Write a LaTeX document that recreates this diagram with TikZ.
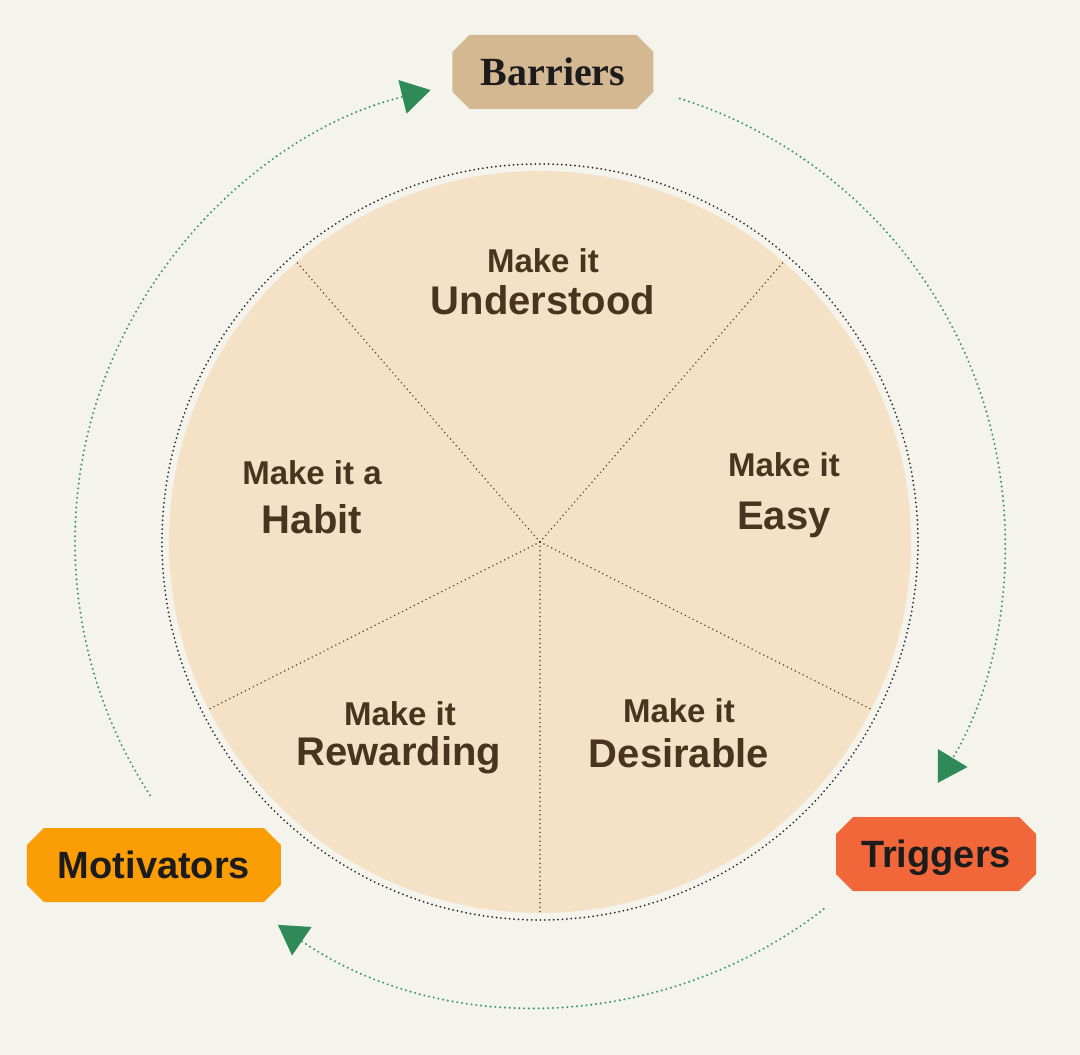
\documentclass[tikz,border=0pt]{standalone}
\usepackage{fontspec}
\setmainfont{Liberation Sans}
\newfontfamily\tagserif{Liberation Serif}
\usetikzlibrary{arrows.meta}

\definecolor{paper}{HTML}{F4F3EC}
\definecolor{wheelfill}{HTML}{F5E1C6}
\definecolor{wheelink}{HTML}{4A3420}
\definecolor{spokeink}{HTML}{5B4631}
\definecolor{ringink}{HTML}{2A2A2A}
\definecolor{labelink}{HTML}{1C1C1C}
\definecolor{barriertan}{HTML}{D4B892}
\definecolor{triggerred}{HTML}{F2673A}
\definecolor{motivorange}{HTML}{FB9D05}
\definecolor{loopgreen}{HTML}{3D9A6A}
\definecolor{tipgreen}{HTML}{2E8B57}

\begin{document}
\begin{tikzpicture}[x=1pt, y=1pt,
    tag/.style={rectangle, fill=paper, minimum height=74pt, inner sep=0pt,
      text height=27pt, text depth=0pt, text=labelink,
      font=\bfseries\fontsize{38}{40}\selectfont,
      path picture={\fill[#1]
        ([xshift=17pt]path picture bounding box.north west) -- ([xshift=-17pt]path picture bounding box.north east)
        -- ([yshift=-17pt]path picture bounding box.north east) -- ([yshift=17pt]path picture bounding box.south east)
        -- ([xshift=-17pt]path picture bounding box.south east) -- ([xshift=17pt]path picture bounding box.south west)
        -- ([yshift=17pt]path picture bounding box.south west) -- ([yshift=-17pt]path picture bounding box.north west)
        -- cycle;}},
    pre/.style={anchor=base, text=wheelink, font=\bfseries\fontsize{33}{36}\selectfont},
    word/.style={anchor=base, text=wheelink, font=\bfseries\fontsize{40}{44}\selectfont},
    spoke/.style={spokeink, line width=1.7pt, line cap=round, dash pattern=on 0pt off 4.4pt},
    ring/.style={ringink, line width=2pt, line cap=round, dash pattern=on 0pt off 4.4pt},
    orbit/.style={loopgreen, line width=2.3pt, line cap=round, dash pattern=on 0pt off 4.8pt,
      -{Triangle[length=29pt, width=34pt, color=tipgreen]}}
  ]
  \fill[paper] (-540,-513) rectangle (540,542);
  \useasboundingbox (-540,-513) rectangle (540,542);

  % the wheel
  \coordinate (hub) at (0,0);
  \fill[wheelfill] (hub) circle[radius=371];
  \draw[ring] (hub) circle[radius=378];
  \foreach \a in {49,131,206.8,270,333.2}
    \draw[spoke] (hub) -- (\a:371);

  \node[pre]  (understoodpre) at (3,269)   {Make it};
  \node[word] (understood)    at (3,227)   {Understood};
  \node[pre]  (easypre)       at (244,65)  {Make it};
  \node[word] (easy)          at (244,12)  {Easy};
  \node[pre]  (habitpre)      at (-228,57) {Make it a};
  \node[word] (habit)         at (-228,8)  {Habit};
  \node[pre]  (rewardingpre)  at (-140,-183) {Make it};
  \node[word] (rewarding)     at (-141,-223) {Rewarding};
  \node[pre]  (desirablepre)  at (139,-181) {Make it};
  \node[word] (desirable)     at (139,-225) {Desirable};

  % outer labels
  \node[tag=barriertan, minimum width=201pt,
    font=\tagserif\bfseries\fontsize{40}{44}\selectfont] (barriers) at (13,470) {Barriers};
  \node[tag=triggerred, minimum width=200pt] (triggers) at (396,-312) {Triggers};
  \node[tag=motivorange, minimum width=254pt] (motivators) at (-386,-323) {Motivators};

  % the loop round the wheel
  \coordinate (m2b) at (213:465);
  \coordinate (b2t) at (72.5:465);
  \coordinate (t2m) at (-52.3:464);
  \draw[orbit] (m2b) arc[start angle=213, end angle=103.6, radius=465];
  \draw[orbit] (b2t) arc[start angle=72.5, end angle=-31.2, radius=465];
  \draw[orbit] (t2m) arc[start angle=-52.3, end angle=-124.4, radius=464];
\end{tikzpicture}
\end{document}
